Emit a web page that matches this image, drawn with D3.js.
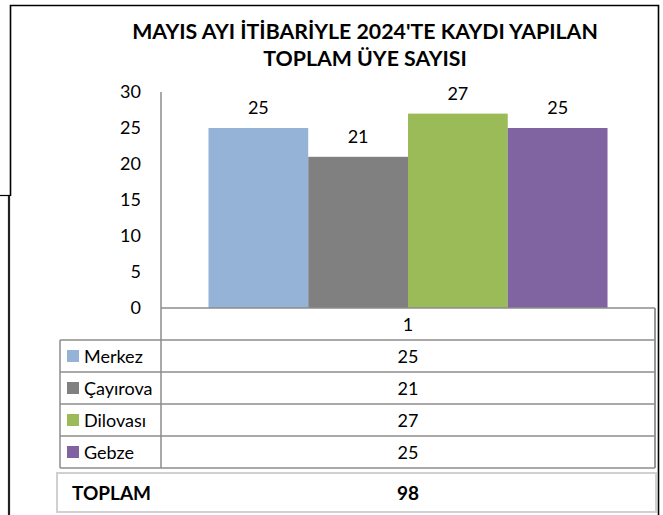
<!DOCTYPE html>
<html><head><meta charset="utf-8">
<script src="https://cdn.jsdelivr.net/npm/d3@7"></script>
<style>body{margin:0;background:#fff}svg{display:block}</style>
</head><body>
<script>
const titleLines = ["MAYIS AYI İTİBARİYLE 2024'TE KAYDI YAPILAN", "TOPLAM ÜYE SAYISI"];
const categories = ["1"];
const seriesNames = ["Merkez", "Çayırova", "Dilovası", "Gebze"];
const seriesValues = [25, 21, 27, 25];
const seriesColors = ["#95B3D7", "#808080", "#9BBB59", "#8064A2"];
const yTicks = [0, 5, 10, 15, 20, 25, 30];
const totalLabel = "TOPLAM";
const totalValue = 98;

const W = 663, H = 515;
const font = "Lato, 'Open Sans', sans-serif";
const fs = 18;
const svg = d3.select("body").append("svg").attr("width", W).attr("height", H);

// outer frame (screenshot borders)
svg.append("path").attr("d", "M10.5,196 V5.5 H658.5 V515").attr("fill", "none").attr("stroke", "#000").attr("stroke-width", 1.6);
svg.append("path").attr("d", "M0,195.5 H10").attr("stroke", "#000").attr("stroke-width", 1.2);
svg.append("path").attr("d", "M9,196 V515").attr("stroke", "#222").attr("stroke-width", 2.2);

// title
svg.append("g").selectAll("text").data(titleLines).join("text")
  .attr("x", 365).attr("y", (d, i) => 39 + i * 27)
  .attr("text-anchor", "middle").attr("font-family", font).attr("font-weight", "bold")
  .attr("font-size", 21.3).attr("fill", "#000").text(d => d);

const plotLeft = 161, plotRight = 655;
const y = d3.scaleLinear().domain([0, 30]).range([308, 92]);
const x0 = d3.scaleBand().domain(categories).range([plotLeft, plotRight]).paddingInner(0).paddingOuter(0.119);
const x1 = d3.scaleBand().domain(seriesNames).range([0, x0.bandwidth()]).padding(0);

// y axis
const yAxis = svg.append("g").attr("transform", `translate(${plotLeft},0)`)
  .call(d3.axisLeft(y).tickValues(yTicks).tickSize(0).tickPadding(20));
yAxis.select(".domain").remove();
yAxis.selectAll("text").attr("font-family", font).attr("font-size", fs).attr("fill", "#000");

// bars
const g = svg.append("g").attr("transform", `translate(${x0(categories[0])},0)`);
g.selectAll("rect").data(seriesValues).join("rect")
  .attr("x", (d, i) => x1(seriesNames[i]))
  .attr("width", x1.bandwidth())
  .attr("y", d => y(d)).attr("height", d => y(0) - y(d))
  .attr("fill", (d, i) => seriesColors[i]);
g.selectAll("text").data(seriesValues).join("text")
  .attr("x", (d, i) => x1(seriesNames[i]) + x1.bandwidth() / 2)
  .attr("y", d => y(d) - 14)
  .attr("text-anchor", "middle").attr("font-family", font).attr("font-size", fs).attr("fill", "#000")
  .text(d => d);

// data table
const rowH = 32;
const tableTop = y(0);
const lineColor = "#8c8c8c";
const t = svg.append("g");
t.append("line").attr("x1", plotLeft).attr("x2", plotLeft).attr("y1", 92).attr("y2", tableTop + rowH * 5)
  .attr("stroke", lineColor).attr("stroke-width", 1.5);
d3.range(6).forEach(i => {
  const yy = tableTop + i * rowH;
  t.append("line").attr("x1", i === 0 ? plotLeft : 60).attr("x2", plotRight)
    .attr("y1", yy).attr("y2", yy).attr("stroke", lineColor).attr("stroke-width", 1.5);
});
t.append("line").attr("x1", 60).attr("x2", 60).attr("y1", tableTop + rowH).attr("y2", tableTop + rowH * 5)
  .attr("stroke", lineColor).attr("stroke-width", 1.5);
t.append("line").attr("x1", plotRight).attr("x2", plotRight).attr("y1", tableTop).attr("y2", tableTop + rowH * 5)
  .attr("stroke", lineColor).attr("stroke-width", 1.8);

// header row category
t.selectAll("text.cat").data(categories).join("text").attr("class", "cat")
  .attr("x", d => x0(d) + x0.bandwidth() / 2).attr("y", tableTop + rowH / 2 + 6.5)
  .attr("text-anchor", "middle").attr("font-family", font).attr("font-size", fs).text(d => d);

// legend rows
const rows = t.selectAll("g.row").data(seriesNames).join("g").attr("class", "row")
  .attr("transform", (d, i) => `translate(0,${tableTop + (i + 1) * rowH})`);
rows.append("rect").attr("x", 67).attr("y", rowH / 2 - 6).attr("width", 12).attr("height", 12)
  .attr("fill", (d, i) => seriesColors[i]);
rows.append("text").attr("x", 84).attr("y", rowH / 2 + 6.5).attr("font-family", font).attr("font-size", fs)
  .text(d => d);
rows.append("text").attr("x", x0(categories[0]) + x0.bandwidth() / 2).attr("y", rowH / 2 + 6.5)
  .attr("text-anchor", "middle").attr("font-family", font).attr("font-size", fs)
  .text((d, i) => seriesValues[i]);

// total box
svg.append("rect").attr("x", 57).attr("y", 473).attr("width", 599).attr("height", 39)
  .attr("fill", "#fff").attr("stroke", "#d0d0d0").attr("stroke-width", 2);
svg.append("text").attr("x", 72).attr("y", 500).attr("font-family", font).attr("font-weight", "bold")
  .attr("font-size", 19).text(totalLabel);
svg.append("text").attr("x", 408).attr("y", 500).attr("text-anchor", "middle").attr("font-family", font)
  .attr("font-weight", "bold").attr("font-size", 19).text(totalValue);
</script>
</body></html>
